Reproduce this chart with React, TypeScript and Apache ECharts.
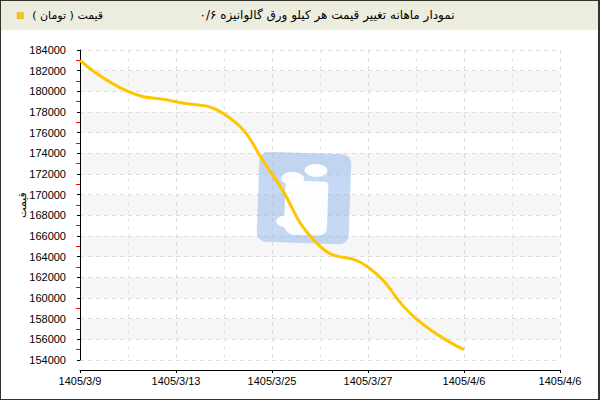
import React, { useEffect, useRef } from "react";
import * as echarts from "echarts";

const chartTitle = "نمودار ماهانه تغییر قیمت هر کیلو ورق گالوانیزه ۰/۶";
const seriesName = "قیمت ( تومان )";
const yAxisName = "قیمت";
const tickLabels = ["1405/3/9", "1405/3/13", "1405/3/25", "1405/3/27", "1405/4/6", "1405/4/6"];
const pointIndex = [0, 1, 2, 3, 4, 5, 6, 7, 8];
const priceValues = [183000, 180000, 179000, 177800, 172000, 165000, 163000, 158000, 155000];

const RLE = "\u202B";
const PDF = "\u202C";
const FONT = "'Liberation Sans', Arial, sans-serif";
const TEXT_FONT = "Tahoma, 'DejaVu Sans', sans-serif";

export default function App() {
  const ref = useRef<HTMLDivElement>(null);

  useEffect(() => {
    document.body.style.margin = "0";
    if (!ref.current) return;
    const chart = echarts.init(ref.current, undefined, { renderer: "svg" });
    const data = pointIndex.map((x, i) => [x, priceValues[i]]);
    chart.setOption({
      animation: false,
      backgroundColor: "#ffffff",
      title: {
        text: RLE + chartTitle + PDF,
        left: 327,
        top: 9,
        padding: 0,
        textAlign: "center",
        textStyle: { fontSize: 12, fontWeight: "normal", color: "#000", fontFamily: TEXT_FONT },
      },
      legend: {
        left: 17,
        top: 10,
        padding: 0,
        icon: "rect",
        itemWidth: 6,
        itemHeight: 6,
        data: [seriesName],
        formatter: (n: string) => RLE + n + PDF,
        textStyle: { fontSize: 11, color: "#000", fontFamily: TEXT_FONT, padding: [0, 0, 0, 4] },
        itemStyle: { color: "#ffc600", borderColor: "#c99a00", borderWidth: 0.5 },
      },
      graphic: [
        {
          type: "rect",
          z: -5,
          shape: { x: 0, y: 0, width: 600, height: 30 },
          style: { fill: "#ececdf" },
          silent: true,
        },
        {
          type: "rect",
          z: 50,
          shape: { x: 0, y: 0, width: 600, height: 400 },
          style: { fill: "none", stroke: "#33332a", lineWidth: 2 },
          silent: true,
        },
        {
          type: "line",
          z: 50,
          shape: { x1: 598.5, y1: 0, x2: 598.5, y2: 400 },
          style: { stroke: "#33332a", lineWidth: 1 },
          silent: true,
        },
        {
          type: "group",
          x: 304,
          y: 198,
          rotation: -0.035,
          z: 1,
          silent: true,
          children: [
            {
              type: "rect",
              z: 1,
              shape: { x: -46, y: -45, width: 92, height: 90, r: 9 },
              style: { fill: "rgba(140,180,235,0.5)" },
            },
            {
              type: "ellipse",
              z: 1,
              shape: { cx: 11, cy: -28, rx: 11.5, ry: 6.5 },
              style: { fill: "rgba(255,255,255,0.95)" },
            },
            {
              type: "ellipse",
              z: 1,
              shape: { cx: -12, cy: -19, rx: 11.5, ry: 6.5 },
              style: { fill: "rgba(255,255,255,0.95)" },
            },
            {
              type: "rect",
              z: 1,
              shape: { x: -19, y: -17, width: 43, height: 54, r: [6, 4, 8, 10] },
              style: { fill: "rgba(255,255,255,0.95)" },
            },
            {
              type: "ellipse",
              z: 1,
              shape: { cx: -17, cy: 24, rx: 10, ry: 6 },
              style: { fill: "rgba(255,255,255,0.95)" },
            },
          ],
        },
      ],
      grid: { left: 80, right: 40, top: 50, bottom: 40, containLabel: false },
      xAxis: {
        type: "value",
        min: 0,
        max: 10,
        interval: 2,
        offset: 10,
        axisLine: { show: true, lineStyle: { color: "#000", width: 1 } },
        axisTick: { show: true, length: 3, lineStyle: { color: "#000" } },
        minorTick: { show: false, splitNumber: 2 },
        axisLabel: {
          color: "#000",
          fontSize: 11,
          fontFamily: FONT,
          margin: 5,
          showMinLabel: true,
          showMaxLabel: true,
          formatter: (v: number) => tickLabels[Math.round(v / 2)] ?? "",
        },
        splitLine: { show: true, lineStyle: { color: "#dcdcdc", type: [4, 4] } },
        minorSplitLine: { show: true, lineStyle: { color: "#e6e6e6", type: [4, 4] } },
      },
      yAxis: {
        type: "value",
        min: 154000,
        max: 184000,
        interval: 2000,
        offset: 10,
        name: yAxisName,
        nameLocation: "middle",
        nameGap: 42,
        nameRotate: 90,
        nameMoveOverlap: false,
        nameTextStyle: { fontSize: 11, color: "#000", fontFamily: TEXT_FONT },
        axisLine: { show: true, lineStyle: { color: "#000", width: 1 } },
        axisTick: { show: true, length: 3, lineStyle: { color: "#000" } },
        minorTick: { show: true, splitNumber: 2, length: 4, lineStyle: { color: "#ff0000", width: 1 } },
        axisLabel: {
          color: "#000",
          fontSize: 11,
          fontFamily: FONT,
          margin: 4,
          formatter: (v: number) => String(v),
        },
        splitLine: { show: true, lineStyle: { color: "#dcdcdc", type: [4, 4] } },
        splitArea: { show: true, areaStyle: { color: ["#ffffff", "#f6f6f6"] } },
      },
      series: [
        {
          name: seriesName,
          type: "line",
          data,
          smooth: 0.5,
          showSymbol: false,
          symbol: "none",
          z: 3,
          lineStyle: { color: "#ffc600", width: 3 },
          itemStyle: { color: "#ffc600" },
        },
      ],
    });
    return () => chart.dispose();
  }, []);

  return <div ref={ref} style={{ width: 600, height: 400, position: "absolute", left: 0, top: 0 }} />;
}
